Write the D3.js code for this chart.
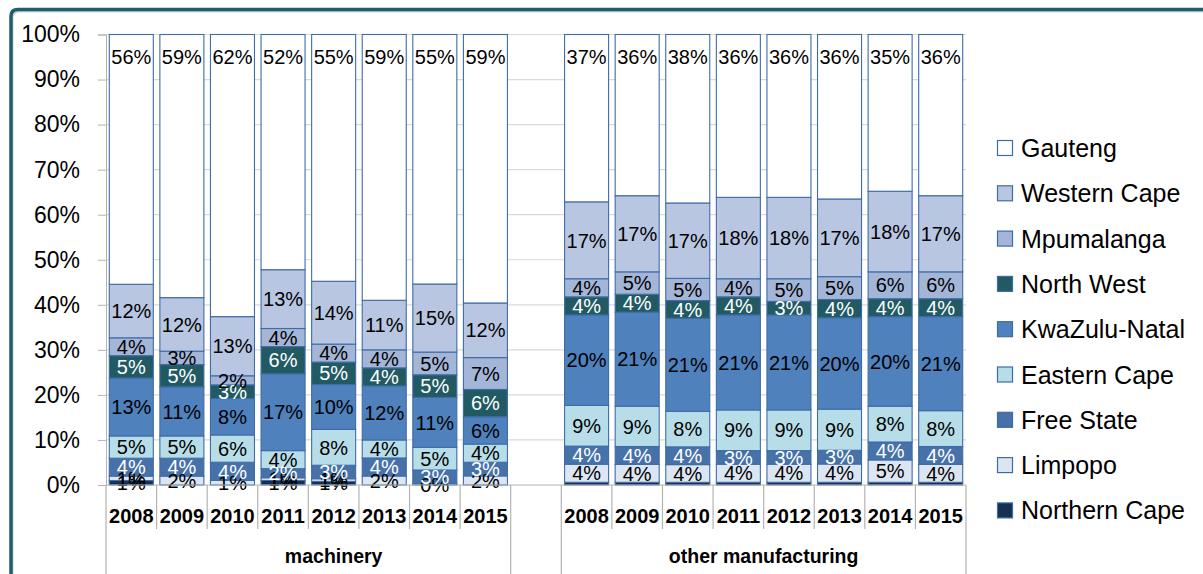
<!DOCTYPE html>
<html>
<head>
<meta charset="utf-8">
<script src="https://cdn.jsdelivr.net/npm/d3@7"></script>
<style>
  html, body { margin: 0; padding: 0; background: #fff; }
  svg { display: block; font-family: "Liberation Sans", Arial, sans-serif; }
</style>
</head>
<body>
<svg id="chart" width="1203" height="574"></svg>
<script>
// ---- data ----
const groups = ["machinery", "other manufacturing"];
const years = ["2008", "2009", "2010", "2011", "2012", "2013", "2014", "2015"];
const yTicks = [0, 0.1, 0.2, 0.3, 0.4, 0.5, 0.6, 0.7, 0.8, 0.9, 1.0];

// values: machinery 2008..2015, then other manufacturing 2008..2015 (percent)
const gauteng      = [56, 59, 62, 52, 55, 59, 55, 59,   37, 36, 38, 36, 36, 36, 35, 36];
const westernCape  = [12, 12, 13, 13, 14, 11, 15, 12,   17, 17, 17, 18, 18, 17, 18, 17];
const mpumalanga   = [4, 3, 2, 4, 4, 4, 5, 7,           4, 5, 5, 4, 5, 5, 6, 6];
const northWest    = [5, 5, 3, 6, 5, 4, 5, 6,           4, 4, 4, 4, 3, 4, 4, 4];
const kwaZuluNatal = [13, 11, 8, 17, 10, 12, 11, 6,     20, 21, 21, 21, 21, 20, 20, 21];
const easternCape  = [5, 5, 6, 4, 8, 4, 5, 4,           9, 9, 8, 9, 9, 9, 8, 8];
const freeState    = [4, 4, 4, 2, 3, 4, 3, 3,           4, 4, 4, 3, 3, 3, 4, 4];
const limpopo      = [1, 2, 1, 0.6, 0.6, 2, 0.3, 2,     4, 4, 4, 4, 4, 4, 5, 4];
const northernCape = [1, null, null, 1, 0.8, null, null, null, 0.6, 0.6, 0.6, 0.6, 0.6, 0.6, 0.6, 0.6];

// stack order bottom -> top
const seriesNames = ["Northern Cape", "Limpopo", "Free State", "Eastern Cape", "KwaZulu-Natal",
                     "North West", "Mpumalanga", "Western Cape", "Gauteng"];
const seriesValues = [northernCape, limpopo, freeState, easternCape, kwaZuluNatal,
                      northWest, mpumalanga, westernCape, gauteng];
const seriesColors = ["#16304f", "#dce6f2", "#4671a9", "#b7dee8", "#4f81bd",
                      "#215a63", "#a4b6d8", "#b9c6e1", "#ffffff"];
const labelColors  = ["#000", "#000", "#fff", "#000", "#000", "#fff", "#000", "#000", "#000"];
// groups in which a series' labels are displayed
const labelledGroups = { "Northern Cape": ["machinery"] };
// series whose labels sit at the inside top of the segment
const insideEndSeries = ["Gauteng"];

// ---- build rows ----
const rows = [];
groups.forEach((g, gi) => years.forEach((yr, yi) => {
  const idx = gi * years.length + yi;
  const row = { key: g + "|" + yr, group: g, year: yr };
  seriesNames.forEach((s, si) => { row[s] = seriesValues[si][idx]; });
  rows.push(row);
}));
const slots = [...rows.slice(0, 8).map(r => r.key), "gap", ...rows.slice(8).map(r => r.key)];

const svg = d3.select("#chart");

// ---- frame ----
svg.append("path")
  .attr("d", "M11,580 L11,16 Q11,9.5 18,9.5 L1210,9.5")
  .attr("fill", "none").attr("stroke", "#d0d4d6").attr("stroke-width", 2)
  .attr("transform", "translate(1.5,2)");
svg.append("path")
  .attr("d", "M11,580 L11,16 Q11,9.5 18,9.5 L1210,9.5")
  .attr("fill", "none").attr("stroke", "#1f5e72").attr("stroke-width", 3.5);

// ---- scales ----
const x = d3.scaleBand().domain(slots).range([106, 966]).paddingInner(0.13).paddingOuter(0.065);
const y = d3.scaleLinear().domain([0, 1]).range([485, 34.5]);
const step = x.step();
const slotStart = k => x(k) - step * 0.065;

// gridlines
svg.append("g").selectAll("line").data(yTicks.slice(1)).join("line")
  .attr("x1", 106).attr("x2", 966)
  .attr("y1", d => y(d)).attr("y2", d => y(d))
  .attr("stroke", "#d9d9d9").attr("stroke-width", 1.2);

// y axis
const yAxis = svg.append("g").attr("transform", "translate(106,0)")
  .call(d3.axisLeft(y).tickValues(yTicks).tickFormat(d3.format(".0%")).tickSize(8).tickPadding(18));
yAxis.select(".domain").attr("stroke", "#b3b3b3");
yAxis.selectAll(".tick line").attr("stroke", "#b3b3b3");
yAxis.selectAll("text").attr("font-size", 23).attr("fill", "#000")
  .attr("font-family", "'Liberation Sans', Arial, sans-serif");

// ---- stack ----
const stack = d3.stack().keys(seriesNames)
  .value((d, k) => d[k] == null ? 0 : d[k])
  .offset(d3.stackOffsetExpand);
const stacked = stack(rows);

const barG = svg.append("g");
stacked.forEach((layer, si) => {
  barG.append("g").selectAll("rect").data(layer).join("rect")
    .attr("x", d => x(d.data.key))
    .attr("width", x.bandwidth())
    .attr("y", d => y(d[1]))
    .attr("height", d => Math.max(0, y(d[0]) - y(d[1])))
    .attr("fill", seriesColors[si])
    .attr("stroke", "#3f6ca6").attr("stroke-width", 1.1);
});

// data labels
const labelG = svg.append("g");
stacked.forEach((layer, si) => {
  const name = seriesNames[si];
  const data = layer.filter(d => {
    const v = d.data[name];
    if (v == null) return false;
    if (labelledGroups[name] && !labelledGroups[name].includes(d.data.group)) return false;
    return true;
  });
  const insideEnd = insideEndSeries.includes(name);
  labelG.append("g").selectAll("text").data(data).join("text")
    .attr("x", d => x(d.data.key) + x.bandwidth() / 2)
    .attr("y", d => insideEnd ? y(d[1]) + 22 : (y(d[0]) + y(d[1])) / 2)
    .attr("dy", "0.36em")
    .attr("text-anchor", "middle")
    .attr("font-size", 20)
    .attr("fill", labelColors[si])
    .text(d => Math.round(d.data[name]) + "%");
});

// x axis line
svg.append("line").attr("x1", 106).attr("x2", 966).attr("y1", 485).attr("y2", 485)
  .attr("stroke", "#b3b3b3").attr("stroke-width", 1.2);

// category separators
const sepG = svg.append("g").attr("stroke", "#b3b3b3").attr("stroke-width", 1.2);
const longSeps = [slotStart(slots[0]), slotStart("gap"), slotStart(slots[9]), slotStart(slots[16]) + step];
const shortSeps = [];
[0, 9].forEach(off => { for (let i = 1; i < 8; i++) shortSeps.push(slotStart(slots[off + i])); });
sepG.selectAll(".long").data(longSeps).join("line").attr("class", "long")
  .attr("x1", d => d).attr("x2", d => d).attr("y1", 485).attr("y2", 580);
sepG.selectAll(".short").data(shortSeps).join("line").attr("class", "short")
  .attr("x1", d => d).attr("x2", d => d).attr("y1", 485).attr("y2", 529);

// year labels
svg.append("g").selectAll("text").data(rows).join("text")
  .attr("x", d => x(d.key) + x.bandwidth() / 2)
  .attr("y", 523)
  .attr("text-anchor", "middle")
  .attr("font-size", 20).attr("font-weight", "bold")
  .text(d => d.year);

// group labels
const groupCenters = [
  (slotStart(slots[0]) + slotStart(slots[9])) / 2,
  (slotStart(slots[9]) + slotStart(slots[16]) + step) / 2
];
svg.append("g").selectAll("text").data(groups).join("text")
  .attr("x", (d, i) => groupCenters[i])
  .attr("y", 563)
  .attr("text-anchor", "middle")
  .attr("font-size", 19.5).attr("font-weight", "bold")
  .text(d => d);

// ---- legend ----
const legendOrder = seriesNames.map((n, i) => i).reverse();
const lg = svg.append("g");
legendOrder.forEach((si, r) => {
  const cy = 148 + r * 45.3;
  lg.append("rect").attr("x", 997.5).attr("y", cy - 7.5).attr("width", 15).attr("height", 15)
    .attr("fill", seriesColors[si]).attr("stroke", "#3f6ca6").attr("stroke-width", 1.2);
  lg.append("text").attr("x", 1021).attr("y", cy).attr("dy", "0.36em")
    .attr("font-size", 25).text(seriesNames[si]);
});
</script>
</body>
</html>
